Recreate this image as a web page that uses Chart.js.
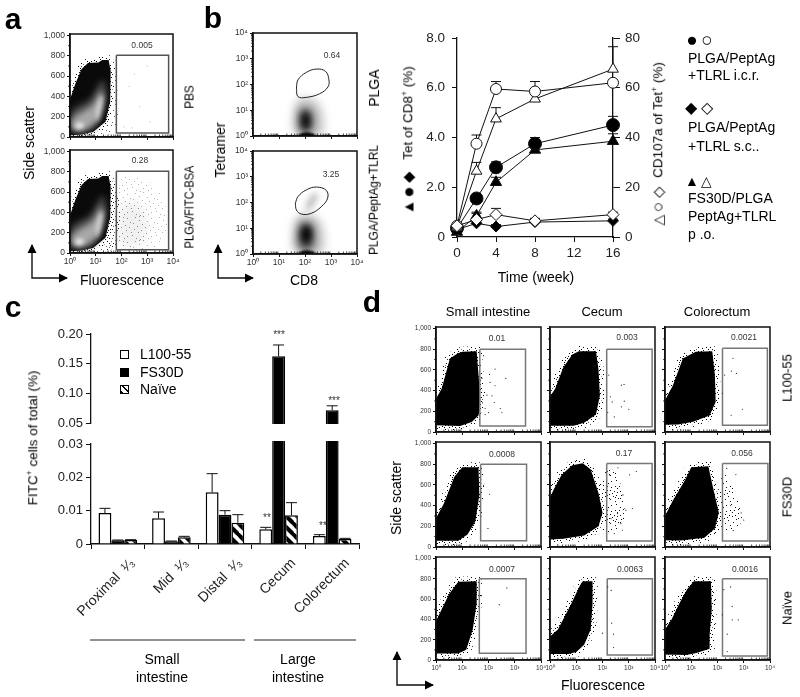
<!DOCTYPE html>
<html><head><meta charset="utf-8">
<script src="https://cdn.jsdelivr.net/npm/chart.js@4/dist/chart.umd.js"></script>
<style>
html,body{margin:0;padding:0;background:#fff;overflow:hidden}
#page{position:relative;width:800px;height:697px;font-family:"Liberation Sans",Arial,sans-serif;color:#000}
#page canvas{position:absolute}
.t{position:absolute;white-space:nowrap;line-height:1;transform-origin:center;will-change:transform}
.t sup{font-size:.62em;line-height:0}
svg{position:absolute;left:0;top:0}
</style></head><body><div id="page"></div>
<script>
/* ---------- panel b (right): time course ---------- */
const weeks=[0,2,4,8,16];
const circleFilled=[0.35,1.55,2.8,3.75,4.5],   circleFilledErr=[0.45,1.7,3.02,4.0,4.85];
const diamondFilled=[0.3,0.55,0.42,0.6,0.65],  diamondFilledErr=[0.4,0.65,0.5,0.7,0.72];
const triangleFilled=[0.2,0.85,2.2,3.5,3.85],  triangleFilledErr=[0.3,1.0,2.4,3.7,4.15];
const circleOpen=[0.45,3.75,5.95,5.85,6.2],    circleOpenErr=[0.55,4.1,6.25,6.25,6.3];
const diamondOpen=[0.45,0.7,0.9,0.65,0.9],     diamondOpenErr=[0.55,0.95,1.15,0.75,1.0];
const triangleOpen=[0.4,2.65,4.75,5.55,6.75],  triangleOpenErr=[0.5,3.0,5.2,5.85,7.65];
/* ---------- panel c: bars ---------- */
const tissues=["Proximal  \u00B9\u2044\u2083","Mid  \u00B9\u2044\u2083","Distal  \u00B9\u2044\u2083","Cecum","Colorectum"];
const l100=[0.0093,0.0077,0.0155,0.0044,0.0024],   l100Err=[0.0107,0.0096,0.0211,0.005,0.0028];
const fs30d=[0.0011,0.0008,0.0088,0.1624,0.0715],  fs30dErr=[0.0012,0.0009,0.01,0.1815,0.079];
const naive=[0.0012,0.002,0.0064,0.0086,0.0015],   naiveErr=[0.0013,0.0023,0.0088,0.0124,0.0017];
const upperTicks=[0.05,0.10,0.15,0.20], lowerTicks=[0,0.01,0.02,0.03];
/* ---------- flow plots: x in decades, y in SSC (or decades) ---------- */
const logTicks=[1,10,100,1000,10000], logLabels=["10\u2070","10\u00B9","10\u00B2","10\u00B3","10\u2074"];
const sscTicks=[0,200,400,600,800,1000];
const minorMultiples=[2,3,4,5,6,7,8,9];
const aHalo=[[0,0],[0,340],[.2,560],[.45,740],[.8,790],[1.55,790],[1.8,680],[1.85,400],[1.9,140],[1.6,25],[1,0]];
const aBlack=[[0,25],[0,370],[.2,520],[.45,670],[.7,730],[1.1,735],[1.25,760],[1.5,760],[1.58,650],[1.56,350],[1.38,150],[.9,50],[.4,22],[0,18]];
const aDark=[[0,55],[0,260],[.4,320],[.85,370],[1.2,570],[1.38,550],[1.38,350],[1.18,160],[.75,60],[.3,40]];
const aMid=[[.02,65],[.05,190],[.5,250],[.95,320],[1.2,470],[1.32,430],[1.27,290],[1.05,145],[.6,60]];
const aWhite1=[[.15,100],[.3,145],[.58,130],[.5,85],[.3,75]];
const aWhite2=[[.98,240],[1.2,430],[1.28,380],[1.16,220],[1.02,130]];
const aBottomFringe=[[1.3,30],[1.4,690],[1.72,720],[1.95,500],[1.92,60],[1.5,30]];
const aBottomCloud=[[1.7,30],[1.75,740],[2.4,770],[3.3,690],[3.8,450],[3.75,100],[3.0,30]];
const aBottomCore=[[1.85,60],[1.85,480],[2.4,530],[3.0,400],[3.05,130],[2.4,50]];
const aTopDots=[[2.3,500],[2.5,620],[2.7,300],[3.1,150],[2.1,100],[3.0,700],[2.4,90]];
const aGate=[[1.8,805],[3.83,805],[3.83,40],[1.8,40],[1.8,805]];
const aGate2=[[1.8,805],[3.83,805],[3.83,32],[1.8,32],[1.8,805]];
const bLight=[[1.52,-.1],[1.52,.95],[1.7,1.42],[2.0,1.52],[2.42,1.42],[2.72,.95],[2.75,-.1]];
const bDark=[[1.78,.12],[1.78,.95],[2.0,1.12],[2.28,.95],[2.28,.12]];
const bCore=[[1.88,.24],[1.88,.9],[2.06,.96],[2.18,.75],[2.16,.24]];
const bBand=[[1.68,-.15],[1.8,.1],[2.05,.16],[2.38,.1],[2.55,-.15]];
const bLight2=[[1.5,-.1],[1.5,1.05],[1.7,1.48],[2.0,1.55],[2.45,1.48],[2.74,1.05],[2.78,-.1]];
const bDark2=[[1.75,.12],[1.75,1.1],[2.02,1.28],[2.32,1.1],[2.34,.12]];
const bCore2=[[1.86,.42],[1.86,1.05],[2.1,1.12],[2.26,.95],[2.22,.42]];
const bTetramer=[[1.98,1.7],[2.1,2.1],[2.35,2.42],[2.55,2.32],[2.4,1.95],[2.1,1.62]];
const bOval1=[[1.67,1.86],[1.73,2.18],[2.05,2.47],[2.44,2.6],[2.79,2.51],[2.92,2.18],[2.88,1.9],[2.56,1.64],[2.05,1.5],[1.73,1.53],[1.67,1.86]];
const bOval2=[[1.63,1.97],[1.73,2.23],[2.05,2.49],[2.44,2.6],[2.82,2.47],[2.87,2.17],[2.63,1.84],[2.24,1.58],[1.86,1.55],[1.67,1.71],[1.63,1.97]];
const dBlobs=[
 [[-.1,65],[-.1,275],[.22,420],[.53,710],[.82,760],[1.0,775],[1.55,780],[1.62,550],[1.69,320],[1.62,160],[1.36,97],[.92,58]],
 [[-.1,60],[-.1,300],[.2,420],[.5,620],[.85,750],[1.1,780],[1.75,780],[1.85,600],[1.9,350],[1.75,170],[1.3,90],[.9,60]],
 [[-.1,70],[-.1,260],[.3,450],[.68,710],[1.17,775],[1.8,780],[1.9,550],[1.93,290],[1.7,160],[1.07,100],[.5,72]],
 [[-.1,60],[-.1,230],[.3,420],[.7,680],[1.0,770],[1.62,770],[1.65,500],[1.5,250],[1.2,120],[.85,60]],
 [[-.1,70],[-.1,420],[.15,560],[.45,700],[.85,790],[1.25,810],[1.55,750],[1.85,520],[2.0,330],[1.85,200],[1.3,110],[.5,80]],
 [[-.1,65],[-.1,250],[.3,450],[.75,640],[1.0,770],[1.65,780],[1.85,550],[2.05,330],[1.9,180],[1.5,90],[.6,62]],
 [[-.1,65],[-.1,330],[.2,490],[.5,650],[.85,770],[1.55,775],[1.55,560],[1.4,300],[1.15,100],[.85,65]],
 [[-.1,60],[-.1,210],[.3,300],[.5,400],[.8,550],[1.15,740],[1.25,775],[1.62,775],[1.62,550],[1.55,300],[1.3,150],[1.0,80],[.7,60]],
 [[-.1,55],[-.1,260],[.25,400],[.55,560],[.85,700],[1.1,775],[1.75,775],[1.78,500],[1.7,250],[1.7,110],[1.2,70],[.8,50]]
];
const dCloudCecum=[[1.8,130],[1.85,600],[2.1,760],[2.6,740],[2.8,450],[2.9,260],[2.5,120]];
const dCloudColo=[[2.0,200],[2.05,650],[2.35,730],[2.7,500],[3.0,300],[2.8,180],[2.4,130]];
const dDots=[
 [[1.81,738],[2.25,608],[2.04,557],[1.75,518],[2.66,518],[2.06,479],[2.25,447],[1.94,356],[2.13,350],[1.77,282],[2.22,285],[1.87,227],[2.45,227],[2.51,191],[2.0,188],[1.87,168]],
 [[2.24,550],[2.72,453],[2.82,460],[2.3,340],[2.83,298],[2.37,291],[2.72,243],[3.0,220],[2.2,188],[2.45,146]],
 [[2.59,712],[2.27,550],[2.53,589],[2.72,566],[2.19,372],[2.95,220],[2.52,162]],
 [[1.81,596],[2.04,510],[1.98,180]],
 [[2.32,275],[2.7,226],[2.57,323],[2.89,356],[3.14,372],[2.76,162],[2.45,130],[2.59,766],[3.03,698],[3.29,730],[2.27,698],[2.78,503]],
 [[2.35,760],[2.7,700],[2.5,400],[2.9,330],[3.0,260],[2.6,160]],
 [[2.7,710],[2.41,545],[1.73,634]],
 [[2.2,720],[2.33,686],[2.35,363],[2.42,254],[2.42,122],[2.0,264]],
 [[2.24,693],[2.5,720],[2.56,528],[2.18,445],[2.56,396],[2.79,396],[2.37,254],[2.37,83]]
];
const dGates=[
 [1.67,3.41,800,58],[2.16,3.89,800,50],[2.19,3.9,810,65],
 [1.7,3.45,800,60],[2.16,3.89,808,58],[2.19,3.92,808,58],
 [1.65,3.43,800,66],[2.18,3.9,800,50],[2.19,3.9,800,40]
];
const dGateValues=["0.01","0.003","0.0021","0.0008","0.17","0.056","0.0007","0.0063","0.0016"];
const stippleTile=[[3,1],[11,0],[19,2],[7,4],[15,5],[22,6],[1,7],[10,8],[17,9],[5,10],[13,11],[21,11],[2,13],[9,14],[18,14],[6,16],[14,17],[23,16],[0,19],[11,20],[19,20],[4,22],[8,23],[16,22],
 [7,0],[15,1],[23,1],[1,3],[11,4],[18,5],[4,6],[13,7],[20,8],[7,9],[0,10],[15,10],[10,12],[23,12],[4,13],[17,13],[12,15],[20,16],[2,16],[8,18],[16,18],[22,19],[5,19],[13,21],[1,22],[21,23],
 [5,3],[13,3],[20,4],[2,5],[9,6],[16,7],[23,9],[3,9],[12,9],[19,11],[7,12],[15,13],[0,14],[21,14],[5,15],[10,16],[17,16],[1,18],[13,19],[20,18],[7,20],[15,20],[23,21],[3,20],[10,22],[18,23]];

/* ---------- helpers ---------- */
const FONT='"Liberation Sans",Arial,sans-serif';
const page=document.getElementById('page');
Chart.defaults.font.family=FONT;
function stipple(ctx,color,n){
  const c=document.createElement('canvas');c.width=c.height=24;const g=c.getContext('2d');g.fillStyle=color;
  stippleTile.slice(0,n).forEach(p=>g.fillRect(p[0],p[1],1,1));
  return ctx.createPattern(c,'repeat');
}
function label(html,cx,cy,size,o={}){
  const d=document.createElement('div');d.className='t';d.innerHTML=html;
  d.style.left=cx+'px';d.style.top=cy+'px';d.style.fontSize=size+'px';
  if(o.bold)d.style.fontWeight='bold';
  if(o.color)d.style.color=o.color;
  d.style.transform=`translate(-50%,-50%) rotate(${o.rot||0}deg) scaleX(${o.sx||1})`;
  page.appendChild(d);
}
function box(l,t,w,h,pad){
  const c=document.createElement('canvas');
  c.width=w+pad.l+pad.r;c.height=h+pad.t+pad.b;
  c.style.left=(l-pad.l)+'px';c.style.top=(t-pad.t)+'px';
  page.appendChild(c);return c;
}
const fitY=(s,w)=>{s.width=w;s.paddingTop=0;s.paddingBottom=0;};
const fitX=(s,h)=>{s.height=h;s.paddingLeft=0;s.paddingRight=0;};
const densityPlugin={id:'density',beforeDatasetsDraw(chart){
  const ctx=chart.ctx,a=chart.chartArea;
  chart.data.datasets.forEach((ds,i)=>{
    if(!ds.layer)return;
    const pts=chart.getDatasetMeta(i).data,L=ds.layer,n=pts.length;
    ctx.save();ctx.beginPath();ctx.rect(a.left,a.top,a.width,a.height);ctx.clip();
    const path=()=>{ctx.beginPath();
      if(L.sharp){pts.forEach((p,k)=>k?ctx.lineTo(p.x,p.y):ctx.moveTo(p.x,p.y));ctx.closePath();return;}
      let m=[(pts[n-1].x+pts[0].x)/2,(pts[n-1].y+pts[0].y)/2];ctx.moveTo(m[0],m[1]);
      for(let k=0;k<n;k++){const p=pts[k],q=pts[(k+1)%n];ctx.quadraticCurveTo(p.x,p.y,(p.x+q.x)/2,(p.y+q.y)/2);}
      ctx.closePath();};
    if(L.fringe){path();ctx.lineJoin='round';
      ctx.strokeStyle=stipple(ctx,L.color,30);ctx.lineWidth=L.fringe*2.6;ctx.stroke();
      ctx.strokeStyle=stipple(ctx,L.color,76);ctx.lineWidth=L.fringe*1.2;ctx.stroke();
      ctx.lineWidth=L.fringe*.45;ctx.stroke();}
    if(L.blur)ctx.filter=`blur(${L.blur}px)`;
    path();ctx.fillStyle=L.dots?stipple(ctx,L.color,L.dots):L.color;ctx.fill();
    ctx.restore();
  });
}};
const framePlugin={id:'frame',afterDatasetsDraw(chart){
  const ctx=chart.ctx,a=chart.chartArea;
  ctx.save();ctx.strokeStyle='#111';ctx.lineWidth=1.5;ctx.strokeRect(a.left,a.top,a.width,a.height);
  const mark=(scale,horizontal)=>{
    ctx.lineWidth=.8;ctx.beginPath();
    if(scale.type==='logarithmic'){
      for(let d=1;d<1e4;d*=10)minorMultiples.forEach(m=>{const p=scale.getPixelForValue(d*m);
        if(horizontal){ctx.moveTo(p,a.bottom);ctx.lineTo(p,a.bottom-2.5);}else{ctx.moveTo(a.left,p);ctx.lineTo(a.left-2,p);}});
    }else{
      for(let v=100;v<1000;v+=200){const p=scale.getPixelForValue(v);ctx.moveTo(a.left,p);ctx.lineTo(a.left-2,p);}
    }
    ctx.stroke();};
  mark(chart.scales.x,true);mark(chart.scales.y,false);
  ctx.restore();
}};
const errorPlugin={id:'errors',beforeDatasetsDraw(chart){
  const ctx=chart.ctx;ctx.save();ctx.strokeStyle='#111';ctx.lineWidth=1;
  chart.data.datasets.forEach((ds,i)=>{
    if(!ds.err)return;
    const meta=chart.getDatasetMeta(i),sc=chart.scales[meta.yAxisID];
    ds.err.forEach((e,k)=>{
      const v=ds.data[k],el=meta.data[k];
      const val=v&&v.y!==undefined?v.y:v;
      if(val==null||val>sc.max||e>sc.max)return;
      const y=sc.getPixelForValue(e);
      ctx.beginPath();ctx.moveTo(el.x,sc.getPixelForValue(val));ctx.lineTo(el.x,y);
      ctx.moveTo(el.x-ds.capHalf,y);ctx.lineTo(el.x+ds.capHalf,y);ctx.stroke();
    });
  });
  ctx.restore();
}};
const tox=(arr,yLog)=>arr.map(p=>({x:10**p[0],y:yLog?10**p[1]:p[1]}));
const layer=(name,arr,o,yLog)=>({label:name,data:tox(arr,yLog),showLine:false,pointRadius:0,layer:o});
const gate=(name,arr,o,yLog)=>({label:name,data:tox(arr,yLog),showLine:true,fill:false,pointRadius:0,
  borderColor:o.color,borderWidth:o.width,tension:o.tension||0});
const specks=(name,arr,o)=>({label:name,data:tox(arr),showLine:false,pointRadius:o.r,pointBorderWidth:0,pointBackgroundColor:o.color});
function rectGate(g){return [[g[0],g[2]],[g[1],g[2]],[g[1],g[3]],[g[0],g[3]],[g[0],g[2]]];}
function flow(o){
  const pad=o.pad,yLog=o.yLog;
  const tf={size:o.font,family:FONT};
  new Chart(box(o.l,o.t,o.w,o.h,pad),{type:'scatter',data:{datasets:o.datasets},plugins:[densityPlugin,framePlugin],
   options:{responsive:false,animation:false,events:[],layout:{autoPadding:false,padding:{left:0,right:pad.r,top:pad.t,bottom:0}},
    plugins:{legend:{display:false},tooltip:{enabled:false}},
    scales:{
     x:{type:'logarithmic',min:1,max:10000,afterBuildTicks:s=>{s.ticks=logTicks.map(v=>({value:v}));},
        afterFit:s=>fitX(s,pad.b),
        grid:{drawOnChartArea:false,color:'#111',tickLength:3},border:{color:'#111',width:1.5},
        ticks:{maxRotation:0,autoSkip:false,padding:1,color:'#333',font:tf,callback:v=>o.showX?logLabels[logTicks.indexOf(v)]:''}},
     y:yLog?{type:'logarithmic',min:1,max:10000,afterBuildTicks:s=>{s.ticks=logTicks.map(v=>({value:v}));},
        afterFit:s=>fitY(s,pad.l),
        grid:{drawOnChartArea:false,color:'#111',tickLength:3},border:{color:'#111',width:1.5},
        ticks:{autoSkip:false,padding:2,color:'#333',font:tf,callback:v=>logLabels[logTicks.indexOf(v)]}}
       :{type:'linear',min:0,max:1015,afterBuildTicks:s=>{s.ticks=sscTicks.map(v=>({value:v}));},
        afterFit:s=>fitY(s,pad.l),
        grid:{drawOnChartArea:false,color:'#111',tickLength:3},border:{color:'#111',width:1.5},
        ticks:{autoSkip:false,padding:2,color:'#333',font:tf,callback:v=>o.showY?(v===1000?'1,000':String(v)):''}}
    }}});
}
const K='#000';
function aLayers(extra){
  return [
   ...(extra||[]),
   layer('halo',aHalo,{color:'#666',dots:26}),
   layer('density 1',aBlack,{color:'#0a0a0a',fringe:3.5,sharp:true}),
   layer('density 2',aDark,{color:'#4a4a4a',blur:3}),
   layer('density 3',aMid,{color:'#a8a8a8',blur:3}),
   layer('density 4',aWhite1,{color:'#eeeeee',blur:2}),
   layer('density 5',aWhite2,{color:'#dddddd',blur:2})
  ];
}
/* panel a */
flow({l:70,t:34,w:103,h:103,pad:{l:34,r:10,t:6,b:6},font:8.5,showY:true,showX:false,datasets:[
  ...aLayers(),specks('events',aTopDots,{r:.6,color:'#bbb'}),gate('gate',aGate,{color:'#555',width:1.5})]});
flow({l:70,t:150,w:103,h:103,pad:{l:34,r:10,t:6,b:20},font:8.5,showY:true,showX:true,datasets:[
  ...aLayers([layer('cloud base',aBottomCore,{color:'#f0f0f0',blur:5}),
              layer('cloud',aBottomCloud,{color:'#b4b4b4',dots:24}),
              layer('cloud core',aBottomCore,{color:'#8c8c8c',dots:26}),
              layer('fringe',aBottomFringe,{color:'#222',dots:60})]),
  gate('gate',aGate2,{color:'#555',width:1.5})]});
/* panel b flow */
const bLayers=(a,b,c,band)=>[
  layer('density 1',a,{color:'#c6c6c6',blur:4},true),
  layer('density 2',b,{color:'#3c3c3c',blur:5},true),
  layer('density 3',c,{color:'#000',blur:3.5},true),
  layer('band',band,{color:'#000',blur:1},true)];
flow({l:253,t:33,w:104,h:103,yLog:true,pad:{l:30,r:10,t:6,b:6},font:8.5,showX:false,datasets:[
  ...bLayers(bLight,bDark,bCore,bBand),gate('oval gate',bOval1,{color:'#222',width:1,tension:.4},true)]});
flow({l:253,t:151,w:104,h:103,yLog:true,pad:{l:30,r:10,t:6,b:20},font:8.5,showX:true,datasets:[
  ...bLayers(bLight2,bDark2,bCore2,bBand),layer('tetramer',bTetramer,{color:'#c0c0c0',blur:3},true),
  gate('oval gate',bOval2,{color:'#222',width:1,tension:.4},true)]});
/* panel d */
const colsX=[436,550.3,665.3], rowsY=[327,442,557], rowsH=[105,105,103];
dBlobs.forEach((blob,i)=>{
  const c=i%3,r=Math.floor(i/3);
  const extra=i===4?[layer('cloud',dCloudCecum,{color:'#111',dots:40})]:i===5?[layer('cloud',dCloudColo,{color:'#111',dots:34})]:[];
  flow({l:colsX[c],t:rowsY[r],w:105,h:rowsH[r],pad:{l:c===0?28:6,r:8,t:5,b:r===2?14:5},font:6.5,showY:c===0,showX:r===2,datasets:[
    ...extra,layer('events',blob,{color:K,fringe:4,sharp:true}),
    specks('events',dDots[i],{r:.6,color:'#222'}),
    gate('gate',rectGate(dGates[i]),{color:'#777',width:1.5})]});
  const vx=[497,627,744,502,624,742,502,630,745][i],vy=[338,337,337,454,453,453,569,569,569][i];
  label(dGateValues[i],vx,vy,8.5,{color:'#333'});
});
/* time course */
const linePts=a=>a.map((v,i)=>({x:weeks[i],y:v}));
const series=(name,vals,errs,style,r,filled)=>({label:name,data:linePts(vals),err:errs,capHalf:5,showLine:true,clip:false,
  borderColor:'#111',borderWidth:1,pointStyle:style,pointRadius:r,pointBorderColor:'#111',pointBorderWidth:1,
  pointBackgroundColor:filled?'#000':'#fff',fill:false,tension:0});
new Chart(box(457,38,156,199,{l:40,r:40,t:6,b:30}),{type:'scatter',
 data:{datasets:[
  series('CD107a s.c.',diamondOpen,diamondOpenErr,'rectRot',6,false),
  series('CD107a i.c.r.',circleOpen,circleOpenErr,'circle',5.5,false),
  series('CD107a p.o.',triangleOpen,triangleOpenErr,'triangle',6.2,false),
  series('Tet i.c.r.',circleFilled,circleFilledErr,'circle',6.5,true),
  series('Tet s.c.',diamondFilled,diamondFilledErr,'rectRot',5.5,true),
  series('Tet p.o.',triangleFilled,triangleFilledErr,'triangle',6.5,true)]},
 plugins:[errorPlugin],
 options:{responsive:false,animation:false,events:[],layout:{autoPadding:false,padding:{left:0,right:0,top:6,bottom:0}},
  plugins:{legend:{display:false},tooltip:{enabled:false}},
  scales:{
   x:{type:'linear',min:0,max:16,afterBuildTicks:s=>{s.ticks=[0,4,8,12,16].map(v=>({value:v}));},afterFit:s=>fitX(s,30),
      grid:{drawOnChartArea:false,color:'#111',tickLength:5},border:{color:'#111',width:1.3},
      ticks:{maxRotation:0,autoSkip:false,padding:3,color:'#222',font:{size:13.5}}},
   y:{type:'linear',position:'left',min:0,max:8,afterBuildTicks:s=>{s.ticks=[0,2,4,6,8].map(v=>({value:v}));},afterFit:s=>fitY(s,40),
      grid:{drawOnChartArea:false,color:'#111',tickLength:5},border:{color:'#111',width:1.3},
      ticks:{autoSkip:false,padding:7,color:'#222',font:{size:13.5},callback:v=>v===0?'0':v.toFixed(1)}},
   y2:{type:'linear',position:'right',min:0,max:80,afterBuildTicks:s=>{s.ticks=[0,20,40,60,80].map(v=>({value:v}));},afterFit:s=>fitY(s,40),
      grid:{drawOnChartArea:false,color:'#111',tickLength:7},border:{color:'#111',width:1.3},
      ticks:{autoSkip:false,padding:5,color:'#222',font:{size:13.5},callback:v=>String(v)}}
  }}});
/* panel c */
const c0=document.createElement('canvas').getContext('2d');
function stripes(){
  const c=document.createElement('canvas');c.width=c.height=11;const g=c.getContext('2d');
  g.fillStyle='#fff';g.fillRect(0,0,11,11);g.strokeStyle='#000';g.lineWidth=3.8;
  [[-11,-11,11,11],[0,0,22,22],[-11,0,11,22],[0,-11,22,11]].forEach(s=>{g.beginPath();g.moveTo(s[0],s[1]);g.lineTo(s[2],s[3]);g.stroke();});
  return c0.createPattern(c,'repeat');
}
const barDs=(name,vals,errs,bg,keep,clip)=>({label:name,data:vals.map(keep),err:errs,capHalf:5.5,backgroundColor:bg,borderColor:'#000',borderWidth:1.5,
  categoryPercentage:.72,barPercentage:1,clip:clip});
function barChart(l,t,w,h,pad,keep,ticks,fmt,showX,clip){
  return new Chart(box(l,t,w,h,pad),{type:'bar',
   data:{labels:tissues,datasets:[
     barDs('L100-55',l100,l100Err,'#fff',keep,clip),
     barDs('FS30D',fs30d,fs30dErr,'#000',keep,clip),
     barDs('Na\u00EFve',naive,naiveErr,stripes(),keep,clip)]},
   plugins:[errorPlugin],
   options:{responsive:false,animation:false,events:[],layout:{autoPadding:false,padding:{left:0,right:pad.r,top:pad.t,bottom:showX?0:pad.b}},
    plugins:{legend:{display:false},tooltip:{enabled:false}},
    scales:{
     x:{display:showX,afterFit:s=>fitX(s,pad.b),grid:{drawOnChartArea:false,color:'#111',tickLength:5},border:{color:'#111',width:1.5},
        ticks:{autoSkip:false,minRotation:45,maxRotation:45,labelOffset:15,padding:6,color:'#222',font:{size:14}}},
     y:{min:ticks[0],max:ticks[ticks.length-1],afterBuildTicks:s=>{s.ticks=ticks.map(v=>({value:v}));},afterFit:s=>fitY(s,pad.l),
        grid:{drawOnChartArea:false,color:'#111',tickLength:5},border:{color:'#111',width:1.3},
        ticks:{autoSkip:false,padding:3,color:'#222',font:{size:13},callback:fmt}}
    }}});
}
barChart(91,334,268,97,{l:50,r:2,t:8,b:8},v=>v>=0.05?v:null,upperTicks,v=>v.toFixed(2),false,{left:0,top:0,right:0,bottom:1});
barChart(91,444,268,100,{l:50,r:2,t:8,b:90},v=>v,lowerTicks,v=>v===0?'0':v.toFixed(2),true,{left:0,top:3,right:0,bottom:1});

/* text */
label('a',13,19,30,{bold:true});label('b',213,18,30,{bold:true});
label('c',13,307,30,{bold:true});label('d',372,302,30,{bold:true});
label('Side scatter',29,143,14,{rot:-90});label('Fluorescence',122,280,14);
label('PBS',189,97,13,{rot:-90,sx:.9});label('PLGA/FITC-BSA',189,207,13,{rot:-90,sx:.85});
label('0.005',142,45,8.5,{color:'#333'});label('0.28',140,160,8.5,{color:'#333'});
label('Tetramer',220,150,14,{rot:-90});label('CD8',304,280,14);
label('PLGA',374,88,14,{rot:-90});label('PLGA/PeptAg+TLRL',374,200,12.5,{rot:-90,sx:.95});
label('0.64',332,55,8.5,{color:'#333'});label('3.25',331,174,8.5,{color:'#333'});
label('Tet of CD8<sup>+</sup> (%)',408,113,13.5,{rot:-90});
label('&#9670;',408,177,15,{rot:-90});label('&#9679;',408,192,19,{rot:-90});label('&#9650;',408,207,15,{rot:-90});
label('CD107a of Tet<sup>+</sup> (%)',658,120,13.5,{rot:-90});
label('&#9671;',658,192,15,{rot:-90});label('&#9675;',658,207,17,{rot:-90});label('&#9651;',658,220,14,{rot:-90});
label('Time (week)',536,277,14);
const lx=688;
const left=(t,y)=>{const d=document.createElement('div');d.className='t';d.innerHTML=t;d.style.left=lx+'px';d.style.top=(y-7)+'px';d.style.fontSize='14px';page.appendChild(d);};
label('&#9679;',692,39,19);label('&#9675;',707,39,19);
label('&#9670;',691,108,16);label('&#9671;',707,108,16);
label('&#9650;',692,181,14);label('&#9651;',706,181,14);
left('PLGA/PeptAg',58);left('+TLRL i.c.r.',75);
left('PLGA/PeptAg',127);left('+TLRL s.c..',146);
left('FS30D/PLGA',198);left('PeptAg+TLRL',216);left('p .o.',234);
label('FITC<sup>+</sup> cells of total (%)',33,438,13.5,{rot:-90});
label('***',279,335,10,{color:'#333'});label('***',333.5,401,10,{color:'#333'});
label('**',266.7,518,10,{color:'#333'});label('**',322.7,526,10,{color:'#333'});
const sw=[['#fff','L100-55',354],['#000','FS30D',372],['repeating-linear-gradient(45deg,#000 0 2px,#fff 2px 5px)','Na&iuml;ve',389]];
sw.forEach(s=>{const b=document.createElement('div');b.style.cssText=`position:absolute;left:120px;top:${s[2]-4.5}px;width:7px;height:7px;border:1.3px solid #000;background:${s[0]}`;page.appendChild(b);
  const d=document.createElement('div');d.className='t';d.innerHTML=s[1];d.style.left='140px';d.style.top=(s[2]-7)+'px';d.style.fontSize='14px';page.appendChild(d);});
label('Small',162,659,14);label('intestine',162,677,14);label('Large',298,659,14);label('intestine',298,677,14);
label('Small intestine',488,311,13);label('Cecum',602,311,13);label('Colorectum',717,311,13);
label('Side scatter',396,498,14,{rot:-90});label('Fluorescence',603,685,14);
label('L100-55',787,378,13,{rot:-90});label('FS30D',787,497,13,{rot:-90});label('Na&iuml;ve',787,608,13,{rot:-90});
/* arrows & rules */
const arrow=(x,y,tx,ry)=>`<path d="M${x} ${ry}V${y}H${tx}" fill="none" stroke="#111" stroke-width="1.4"/><path d="M${x-4.5} ${ry+8}L${x} ${ry-1}L${x+4.5} ${ry+8}Z M${tx-8} ${y-4.5}L${tx+1} ${y}L${tx-8} ${y+4.5}Z" fill="#000"/>`;
const svg=`<svg width="800" height="697">${arrow(32,278,67,245)}${arrow(218,278,253,245)}${arrow(397,685,433,652)}
<path d="M90 640H245M254 640H356" stroke="#222" stroke-width="1" fill="none"/></svg>`;
page.insertAdjacentHTML('beforeend',svg);
</script></body></html>
